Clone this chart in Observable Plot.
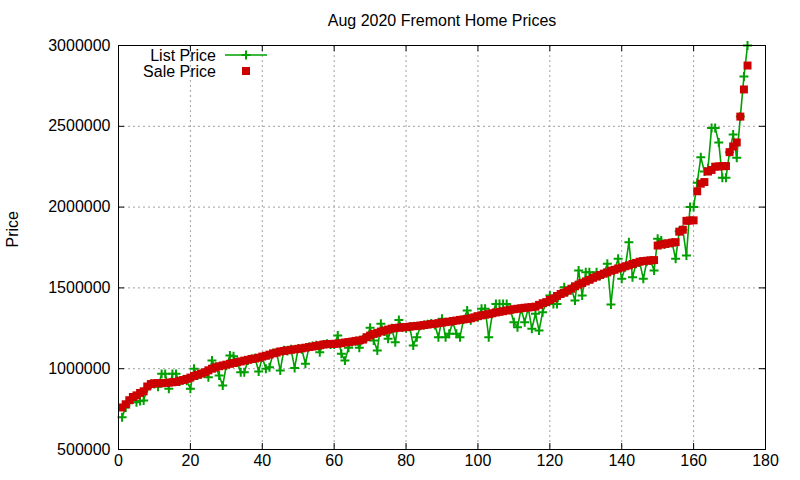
<!DOCTYPE html>
<html><head><meta charset="utf-8">
<script src="https://cdn.jsdelivr.net/npm/d3@7"></script>
<script src="https://cdn.jsdelivr.net/npm/@observablehq/plot@0.6"></script>
<style>
body{margin:0;background:#fff;font-family:"Liberation Sans",Arial,sans-serif;}
#wrap{position:relative;width:800px;height:480px;overflow:hidden;}
#legend{position:absolute;left:0;top:0;pointer-events:none;}
</style></head><body><div id="wrap"></div>
<script>
const title = "Aug 2020 Fremont Home Prices";
const yLabel = "Price";
const seriesNames = ["List Price", "Sale Price"];
const xTicks = [0, 20, 40, 60, 80, 100, 120, 140, 160, 180];
const yTicks = [500000, 1000000, 1500000, 2000000, 2500000, 3000000];

const salePrice = [
760000,780000,805000,825000,835000,850000,860000,890000,905000,910000,
910000,910000,912000,914000,916000,918000,925000,930000,937000,945000,
955000,962000,970000,978000,990000,1000000,1008000,1015000,1020000,1025000,
1030000,1035000,1040000,1045000,1050000,1055000,1060000,1063000,1068000,1075000,
1080000,1087000,1095000,1100000,1107000,1110000,1114000,1117000,1120000,1123000,
1126000,1130000,1134000,1137000,1141000,1145000,1150000,1152000,1153000,1154000,
1155000,1158000,1162000,1165000,1168000,1172000,1175000,1180000,1195000,1205000,
1215000,1222000,1230000,1236000,1242000,1248000,1252000,1254000,1256000,1257000,
1260000,1263000,1265000,1267000,1270000,1273000,1276000,1278000,1282000,1285000,
1288000,1291000,1295000,1298000,1302000,1305000,1308000,1312000,1318000,1325000,
1330000,1334000,1338000,1343000,1348000,1352000,1356000,1360000,1364000,1368000,
1371000,1374000,1377000,1379000,1381000,1384000,1395000,1405000,1412000,1425000,
1435000,1450000,1462000,1470000,1482000,1495000,1510000,1520000,1530000,1540000,
1550000,1562000,1570000,1580000,1588000,1596000,1606000,1612000,1620000,1626000,
1634000,1640000,1648000,1655000,1662000,1666000,1668000,1670000,1672000,1762000,
1768000,1772000,1776000,1780000,1783000,1848000,1860000,1915000,1917000,1918000,
2098000,2145000,2155000,2220000,2230000,2250000,2252000,2253000,2254000,2340000,
2375000,2400000,2560000,2728000,2876000
];

const listPrice = [
700000,760000,793000,810000,793000,800000,803000,880000,905000,905000,
888000,968000,968000,876000,968000,968000,920000,930000,925000,876000,
1000000,960000,965000,975000,947000,1051000,1010000,958000,896000,1020000,
1082000,1077000,1040000,978000,978000,1050000,1060000,1065000,983000,1070000,
1000000,1009000,1095000,1100000,989000,1115000,1110000,1120000,1005000,1125000,
1120000,1030000,1135000,1140000,1145000,1102000,1150000,1155000,1150000,1150000,
1205000,1092000,1050000,1129000,1165000,1170000,1129000,1180000,1190000,1253000,
1175000,1113000,1278000,1230000,1185000,1250000,1164000,1302000,1255000,1250000,
1260000,1144000,1195000,1265000,1270000,1275000,1280000,1270000,1195000,1309000,
1195000,1216000,1290000,1216000,1195000,1305000,1360000,1300000,1320000,1320000,
1371000,1371000,1195000,1340000,1401000,1401000,1401000,1401000,1365000,1288000,
1257000,1370000,1288000,1376000,1247000,1340000,1236000,1350000,1410000,1453000,
1401000,1401000,1465000,1504000,1480000,1495000,1422000,1608000,1453000,1597000,
1597000,1560000,1597000,1575000,1590000,1649000,1397000,1610000,1680000,1556000,
1630000,1783000,1566000,1650000,1660000,1556000,1665000,1670000,1608000,1804000,
1793000,1770000,1775000,1780000,1680000,1850000,1860000,1700000,2000000,2000000,
2150000,2309000,2220000,2240000,2490000,2490000,2400000,2181000,2181000,2340000,
2449000,2305000,2560000,2808000,3000000
];

const listColor = "#00a000";
const saleColor = "#cc0000";
const font = '"Liberation Sans", Arial, sans-serif';

const data = salePrice.map((s, i) => ({n: i + 1, sale: s, list: listPrice[i]}));

const W = 800, H = 480, mL = 118, mR = 35, mT = 45, mB = 31;
const plotW = W - mL - mR, plotH = H - mT - mB;
const tk = 6;
const gridStyle = {stroke: "#a0a0a0", strokeOpacity: 1, strokeDasharray: "2,3", strokeWidth: 1};

const chart = Plot.plot({
  width: W, height: H,
  marginLeft: mL, marginRight: mR, marginTop: mT, marginBottom: mB,
  style: {fontFamily: font, fontSize: "16px", color: "#000", background: "#fff", overflow: "visible"},
  x: {domain: [0, 180]},
  y: {domain: [500000, 3000000]},
  marks: [
    Plot.gridX(xTicks.slice(1, -1), gridStyle),
    Plot.gridY(yTicks.slice(1, -1), gridStyle),
    Plot.tickY(yTicks, {y: d => d, insetRight: plotW - tk, stroke: "#000"}),
    Plot.tickY(yTicks, {y: d => d, insetLeft: plotW - tk, stroke: "#000"}),
    Plot.tickX(xTicks, {x: d => d, insetTop: plotH - tk, stroke: "#000"}),
    Plot.tickX(xTicks, {x: d => d, insetBottom: plotH - tk, stroke: "#000"}),
    Plot.axisY(yTicks, {tickSize: 0, tickPadding: 8, tickFormat: d3.format("d"), label: null, fontSize: 16}),
    Plot.axisX(xTicks, {tickSize: 0, tickPadding: 5, tickFormat: d3.format("d"), label: null, fontSize: 16}),
    Plot.line(data, {x: "n", y: "list", stroke: listColor, strokeWidth: 1.6}),
    Plot.dot(data, {x: "n", y: "list", symbol: "plus", r: 3, stroke: listColor, strokeWidth: 2}),
    Plot.dot(data, {x: "n", y: "sale", symbol: "square", r: 4.5, fill: saleColor, stroke: null}),
    Plot.frame({stroke: "#000"}),
    Plot.text([title], {frameAnchor: "top", dy: -25, fontSize: 16, lineAnchor: "middle"}),
    Plot.text([yLabel], {frameAnchor: "left", dx: -106, rotate: -90, fontSize: 16, lineAnchor: "middle"})
  ]
});

const wrap = document.getElementById("wrap");
wrap.appendChild(chart);

// legend overlay
const lg = d3.select(wrap).append("svg").attr("id", "legend")
  .attr("width", W).attr("height", H)
  .style("font-family", font).style("font-size", "16px");
const rows = [{name: seriesNames[0], y: 55}, {name: seriesNames[1], y: 71}];
lg.selectAll("text").data(rows).join("text")
  .attr("x", 216).attr("y", d => d.y).attr("dy", "0.35em")
  .attr("text-anchor", "end").attr("fill", "#000").text(d => d.name);
lg.append("line").attr("x1", 225).attr("x2", 267).attr("y1", 55).attr("y2", 55)
  .attr("stroke", listColor).attr("stroke-width", 1.6);
lg.append("path").attr("d", "M241.5,55H250.5M246,50.5V59.5")
  .attr("stroke", listColor).attr("stroke-width", 2).attr("fill", "none");
lg.append("rect").attr("x", 242).attr("y", 67).attr("width", 8).attr("height", 8)
  .attr("fill", saleColor);
</script></body></html>
